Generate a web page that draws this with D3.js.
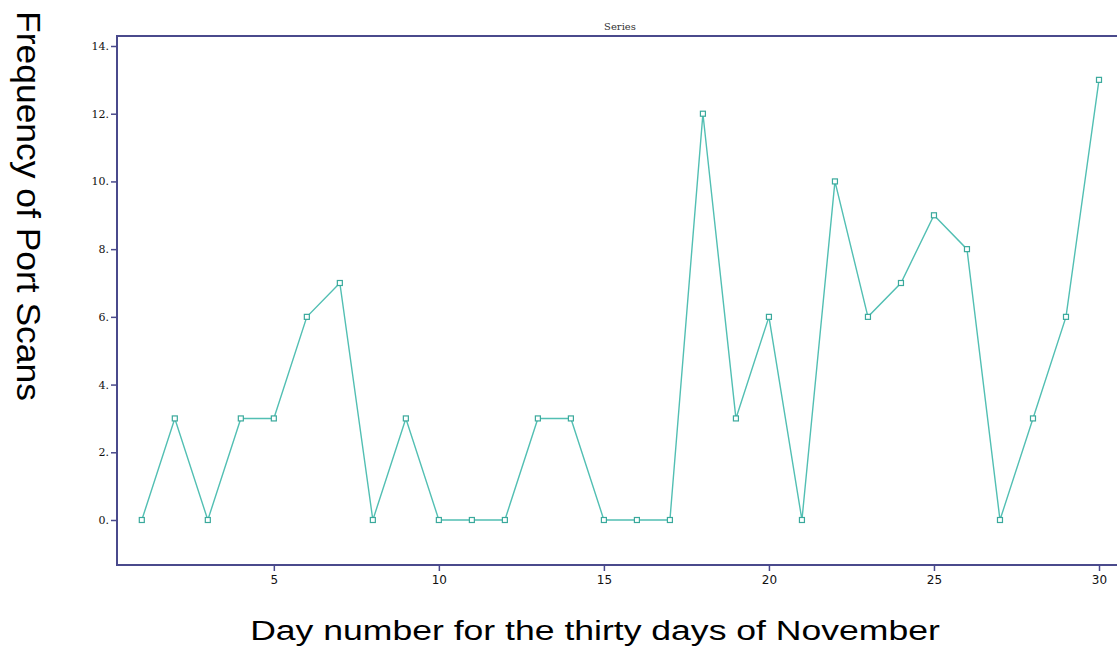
<!DOCTYPE html>
<html>
<head>
<meta charset="utf-8">
<script src="https://cdn.jsdelivr.net/npm/d3@7"></script>
<style>
  body { margin:0; background:#fff; }
  svg { display:block; }
</style>
</head>
<body>
<div id="chart"></div>
<script>
// port scans per day in November
let days   = d3.range(1,31);
let scans  = [0,3,0,3,3,6,7,0,3,0, 0,0,3,3,0,0,0,12,3,6, 0,10,6,7,9,8,0,3,6,13];
let xTicks = [5,10,15,20,25,30];
let yTicks = [0,2,4,6,8,10,12,14];

let W = 1117, H = 651;
let box = {left:117, top:36, right:1125, bottom:565};

let svg = d3.select("#chart").append("svg")
            .attr("width",W)
            .attr("height",H);

let x = d3.scaleLinear().domain([1,30]).range([141.8,1099]);
let y = d3.scaleLinear().domain([0,14]).range([520,46]);

let axisColor = "#4a4a8c";
let lineColor = "#52bfb3";

// frame
svg.append("rect")
   .attr("x",box.left).attr("y",box.top)
   .attr("width",box.right-box.left).attr("height",box.bottom-box.top)
   .attr("fill","none")
   .attr("stroke",axisColor)
   .attr("stroke-width",2);

// y axis ticks
let gy = svg.append("g").attr("transform","translate("+box.left+",0)")
  .call(d3.axisLeft(y).tickValues(yTicks).tickSize(6).tickPadding(2).tickFormat(d => d + "."));
gy.select(".domain").remove();
gy.selectAll("line").attr("stroke",axisColor).attr("stroke-width",1.5);
gy.selectAll("text").attr("fill","#111")
  .style("font-family","'DejaVu Serif', serif").style("font-size","11px");

// x axis ticks
let gx = svg.append("g").attr("transform","translate(0,"+box.bottom+")")
  .call(d3.axisBottom(x).tickValues(xTicks).tickSize(6).tickPadding(4));
gx.select(".domain").remove();
gx.selectAll("line").attr("stroke",axisColor).attr("stroke-width",1.5);
gx.selectAll("text").attr("fill","#111")
  .style("font-family","'DejaVu Sans', sans-serif").style("font-size","12px");

// series line
let line = d3.line()
             .x(function(d,i) {return x(days[i])})
             .y(function(d) {return y(d)});

svg.append("path")
   .datum(scans)
   .attr("d",line)
   .attr("fill","none")
   .attr("stroke",lineColor)
   .attr("stroke-width",1.4);

svg.selectAll(".marker")
   .data(scans)
   .enter().append("rect")
   .attr("class","marker")
   .attr("x",function(d,i) {return x(days[i])-2.5})
   .attr("y",function(d) {return y(d)-2.5})
   .attr("width",5).attr("height",5)
   .attr("fill","#fff")
   .attr("stroke","#3aa99c")
   .attr("stroke-width",1.2);

// title
svg.append("text")
   .attr("x",620).attr("y",30)
   .attr("text-anchor","middle")
   .style("font-family","'DejaVu Serif', serif")
   .style("font-size","10px")
   .attr("fill","#333")
   .text("Series");

// axis labels, squeezed/stretched along the text to match the original width
function fitLabel(g, txt, size, target) {
  let t = g.append("text")
           .attr("text-anchor","middle")
           .style("font-family","'Liberation Sans', Arial, sans-serif")
           .style("font-size",size+"px")
           .attr("fill","#000")
           .text(txt);
  let len = t.node().getComputedTextLength();
  t.attr("transform","scale("+(target/len)+",1)");
}

let xl = svg.append("g").attr("transform","translate(595,640)");
fitLabel(xl, "Day number for the thirty days of November", 27, 690);

let yl = svg.append("g").attr("transform","translate(17,206) rotate(90)");
fitLabel(yl, "Frequency of Port Scans", 33, 390);
</script>
</body>
</html>
